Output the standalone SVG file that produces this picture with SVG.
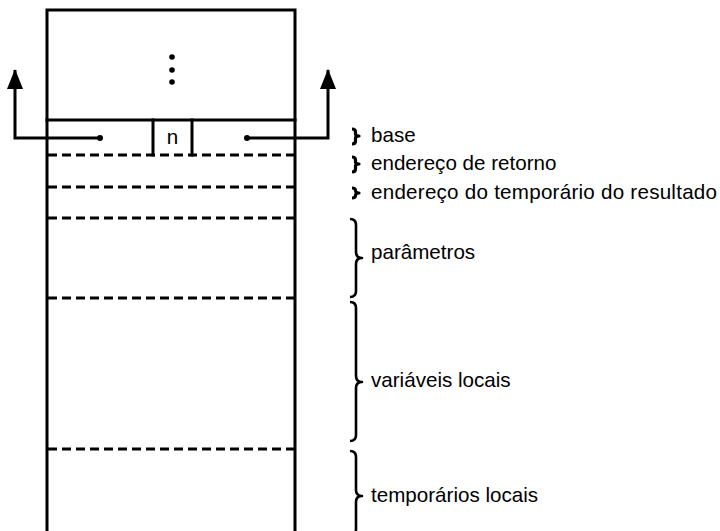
<svg xmlns="http://www.w3.org/2000/svg" width="720" height="531" viewBox="0 0 720 531">
<defs>
<style>
.solid{fill:none;stroke:#000;stroke-width:3;stroke-linecap:square}
.dash{fill:none;stroke:#000;stroke-width:3;stroke-dasharray:9 5}
.brace{fill:none;stroke:#000;stroke-width:2.6;stroke-linejoin:round}
.sbrace{fill:none;stroke:#000;stroke-width:3.2;stroke-linejoin:round}
.lbl{font-family:"Liberation Sans",Arial,sans-serif;font-size:20.6px;fill:#000}
</style>
<marker id="arr" viewBox="0 0 20 16" refX="19" refY="8" markerWidth="20" markerHeight="16" markerUnits="userSpaceOnUse" orient="auto">
<path d="M0,0 L20,8 L0,16 Z" fill="#000"/>
</marker>
</defs>
<rect width="720" height="531" fill="#fff"/>
<g id="stack">
<path class="solid" d="M47,540 L47,10 L295,10 L295,540"/>
<line class="solid" x1="47" y1="120" x2="295" y2="120"/>
<circle cx="172" cy="57" r="2.8"/>
<circle cx="172" cy="70" r="2.8"/>
<circle cx="172" cy="82" r="2.8"/>
</g>
<g id="n-box">
<path class="solid" d="M153,120 L153,155 M192,120 L192,155"/>
<text class="lbl" x="172.5" y="144" text-anchor="middle" font-size="18">n</text>
</g>
<g id="dividers">
<line class="dash" x1="48" y1="155" x2="294" y2="155"/>
<line class="dash" x1="48" y1="187" x2="294" y2="187"/>
<line class="dash" x1="48" y1="218" x2="294" y2="218"/>
<line class="dash" x1="48" y1="298" x2="294" y2="298"/>
<line class="dash" x1="48" y1="449" x2="294" y2="449"/>
</g>
<g id="connectors">
<path class="solid" d="M100,138 L15,138 L15,70" marker-end="url(#arr)" style="stroke-linecap:butt"/>
<circle cx="100" cy="138" r="3"/>
<path class="solid" d="M247,138 L328,138 L328,70" marker-end="url(#arr)" style="stroke-linecap:butt"/>
<circle cx="247" cy="138" r="3"/>
</g>
<g id="label-base">
<path class="sbrace" d="M352,129 Q355.5,129 355.5,132 L355.5,134 Q355.5,136 359,136 Q355.5,136 355.5,138 L355.5,141 Q355.5,144 352,144"/>
<text class="lbl" x="371" y="142">base</text>
</g>
<g id="label-retorno">
<path class="sbrace" d="M352,157 Q355.5,157 355.5,160 L355.5,162 Q355.5,164 359,164 Q355.5,164 355.5,166 L355.5,169 Q355.5,172 352,172"/>
<text class="lbl" x="371" y="170">endereço de retorno</text>
</g>
<g id="label-resultado">
<path class="sbrace" d="M352,188 Q355.5,188 355.5,190.5 Q355.5,193 359,193 Q355.5,193 355.5,195.5 Q355.5,198 352,198"/>
<text class="lbl" x="371" y="199" textLength="346" lengthAdjust="spacing">endereço do temporário do resultado</text>
</g>
<g id="label-parametros">
<path class="brace" d="M350,219 Q356,219 356,225 L356,252 Q356,258 362,258 Q356,258 356,264 L356,291 Q356,297 350,297"/>
<text class="lbl" x="371" y="259">parâmetros</text>
</g>
<g id="label-variaveis">
<path class="brace" d="M350,302 Q356,302 356,308 L356,376 Q356,382 362,382 Q356,382 356,388 L356,435 Q356,441 350,441"/>
<text class="lbl" x="371" y="387">variáveis locais</text>
</g>
<g id="label-temporarios">
<path class="brace" d="M350,451 Q356,451 356,457 L356,490 Q356,496 362,496 Q356,496 356,502 L356,529 Q356,535 350,535"/>
<text class="lbl" x="371" y="502">temporários locais</text>
</g>
</svg>
